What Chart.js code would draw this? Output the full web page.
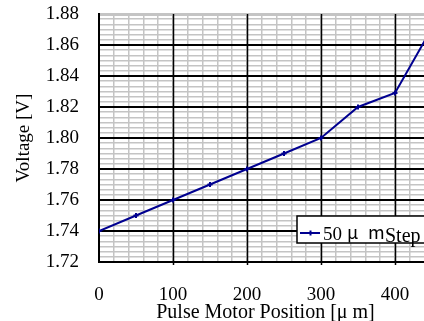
<!DOCTYPE html>
<html>
<head>
<meta charset="utf-8">
<script src="https://cdn.jsdelivr.net/npm/chart.js@4/dist/chart.umd.min.js"></script>
<style>
  html, body { margin: 0; padding: 0; background: #fff; overflow: hidden; }
  canvas { display: block; }
</style>
</head>
<body>
<canvas id="myChart" width="440" height="325"></canvas>
<script>
// values
const positions = [0, 50, 100, 150, 200, 250, 300, 350, 400, 450];
const voltages = [1.74, 1.75, 1.76, 1.77, 1.78, 1.79, 1.80, 1.82, 1.829, 1.871];
const xTickLabels = [0, 100, 200, 300, 400];
const yTickLabels = ['1.72', '1.74', '1.76', '1.78', '1.80', '1.82', '1.84', '1.86', '1.88'];
const seriesLabel = '50 \u03bc m';
const lineColor = '#000090';
const font = 'Liberation Serif, Times New Roman, serif';
const jpFont = 'Noto Sans CJK JP, sans-serif';
const minorColor = '#c4c4c4';

// minor grid: 5 per 100 on x, 6 per 0.02 on y
function xGridTicks(scale) {
    const out = [];
    for (let v = 0; v <= 440; v += 20) out.push({ value: v });
    scale.ticks = out;
}
function yGridTicks(scale) {
    const out = [];
    for (let i = 0; i <= 48; i++) out.push({ value: 1.72 + i * 0.02 / 6 });
    scale.ticks = out;
}

// black major lines on top of the gray ones
const majorGrid = {
    id: 'majorGrid',
    beforeDatasetsDraw(chart) {
        const { ctx, chartArea: a, scales: { x, y } } = chart;
        ctx.save();
        ctx.strokeStyle = '#000';
        ctx.lineWidth = 2;
        ctx.beginPath();
        for (let i = 1; i < yTickLabels.length - 1; i++) {
            const py = Math.round(y.getPixelForValue(parseFloat(yTickLabels[i])));
            ctx.moveTo(a.left, py);
            ctx.lineTo(a.right, py);
        }
        ctx.stroke();
        ctx.lineWidth = 1.5;
        ctx.beginPath();
        xTickLabels.slice(1).forEach(v => {
            const px = Math.round(x.getPixelForValue(v)) + 0.5;
            ctx.moveTo(px, a.top);
            ctx.lineTo(px, a.bottom + 3);
        });
        ctx.stroke();
        ctx.restore();
    }
};

// legend box drawn inside plot area
const legendBox = {
    id: 'legendBox',
    afterDraw(chart) {
        const ctx = chart.ctx;
        const ds = chart.data.datasets[0];
        const parts = ds.label.split(' ');
        ctx.save();
        ctx.fillStyle = '#fff';
        ctx.fillRect(297, 216, 200, 27);
        ctx.strokeStyle = '#000';
        ctx.lineWidth = 1.5;
        ctx.strokeRect(297, 216, 200, 27);
        ctx.strokeStyle = ds.borderColor;
        ctx.lineWidth = 2;
        ctx.beginPath();
        ctx.moveTo(300, 233);
        ctx.lineTo(320, 233);
        ctx.moveTo(310.5, 230.5);
        ctx.lineTo(310.5, 235.5);
        ctx.stroke();
        ctx.fillStyle = '#000';
        ctx.textBaseline = 'alphabetic';
        ctx.font = '19px ' + font;
        ctx.fillText(parts[0], 323, 240);
        ctx.font = '18px ' + jpFont;
        ctx.fillText(parts[1], 347, 239);
        ctx.fillText(parts[2], 368, 239);
        ctx.font = '20px ' + font;
        ctx.fillText('Step', 385, 242);
        ctx.restore();
    }
};

const ctx = document.getElementById('myChart').getContext('2d');
const myChart = new Chart(ctx, {
    type: 'line',
    data: {
        labels: positions,
        datasets: [{
            label: seriesLabel,
            data: positions.map((x, i) => ({ x: x, y: voltages[i] })),
            borderColor: lineColor,
            backgroundColor: lineColor,
            borderWidth: 2,
            pointStyle: 'cross',
            pointRadius: 2.5,
            pointBorderWidth: 2,
            tension: 0
        }]
    },
    options: {
        responsive: false,
        animation: false,
        devicePixelRatio: 1,
        layout: { padding: { top: 14, right: 8, left: 0, bottom: 0 } },
        plugins: { legend: { display: false }, tooltip: { enabled: false } },
        scales: {
            x: {
                type: 'linear',
                min: 0,
                max: 450,
                afterBuildTicks: xGridTicks,
                afterFit: s => { s.height = 63; s.paddingLeft = 0; s.paddingRight = 0; },
                grid: {
                    drawTicks: false,
                    color: minorColor,
                    lineWidth: 1.5
                },
                border: { color: '#000', width: 2 },
                ticks: {
                    autoSkip: false,
                    maxRotation: 0,
                    padding: 22,
                    color: '#000',
                    font: { family: font, size: 19 },
                    callback: v => xTickLabels.includes(v) ? String(v) : ''
                },
                title: {
                    display: true,
                    text: 'Pulse Motor Position [\u03bc m]',
                    color: '#000',
                    font: { family: font, size: 20 },
                    padding: { top: 0, bottom: 0 }
                }
            },
            y: {
                min: 1.72,
                max: 1.88,
                afterBuildTicks: yGridTicks,
                afterFit: s => { s.width = 99; s.paddingTop = 0; s.paddingBottom = 0; },
                grid: {
                    drawTicks: false,
                    color: minorColor,
                    lineWidth: c => c.index === 48 ? 3 : 1.5
                },
                border: { color: '#000', width: 2 },
                ticks: {
                    autoSkip: false,
                    padding: 20,
                    color: '#000',
                    font: { family: font, size: 19 },
                    callback: (v, i) => i % 6 === 0 ? yTickLabels[i / 6] : ''
                },
                title: {
                    display: true,
                    text: 'Voltage [V]',
                    color: '#000',
                    font: { family: font, size: 19 },
                    padding: { top: 13, bottom: 0 }
                }
            }
        }
    },
    plugins: [majorGrid, legendBox]
});
</script>
</body>
</html>
